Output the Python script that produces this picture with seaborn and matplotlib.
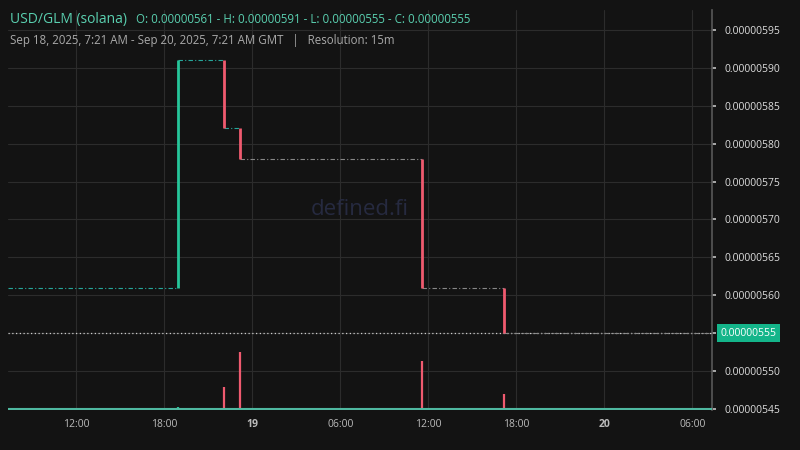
import matplotlib
matplotlib.use("Agg")
import matplotlib.pyplot as plt
import seaborn as sns
import pandas as pd

# hours since Sep 18 00:00
flat_start = [7.35, 18.95, 22.1, 23.2, 35.55, 41.2]
flat_end   = [18.95, 22.1, 23.2, 35.55, 41.2, 55.35]
flat_level = [561, 591, 582, 578, 561, 555]   # x1e-8
flat_color = ["#26a69a", "#26a69a", "#26a69a", "#888888", "#888888", "#888888"]

candle_t     = [18.95, 22.1, 23.2, 35.55, 41.2]
candle_open  = [561, 591, 582, 578, 561]
candle_close = [591, 582, 578, 561, 555]
volume       = [3, 23, 58, 49, 16]

xticks = [12, 18, 24, 30, 36, 42, 48, 54]
xlabels = ["12:00", "18:00", "19", "06:00", "12:00", "18:00", "20", "06:00"]
yticks = [545, 550, 555, 560, 565, 570, 575, 580, 585, 590, 595]

BG = "#131313"
sns.set_theme(style="dark", rc={"axes.facecolor": BG, "figure.facecolor": BG})
plt.rcParams['font.family'] = ['Open Sans', 'DejaVu Sans']

fig = plt.figure(figsize=(8, 4.5), dpi=100)
ax = fig.add_axes([0.01, 0.0889, 0.88, 0.8889])
axv = ax.twinx()
axv.set_zorder(ax.get_zorder() + 1); axv.patch.set_visible(False)

GREEN, RED = "#26c69a", "#ef5a6f"
df = pd.DataFrame({"t": candle_t, "o": candle_open, "c": candle_close, "v": volume})
df["col"] = [GREEN if c >= o else RED for o, c in zip(df.o, df.c)]

for s, e, l, col in zip(flat_start, flat_end, flat_level, flat_color):
    ax.hlines(l, s, e, colors=col, linestyles=(0, (4, 2, 1, 2)), lw=0.8, zorder=3)
for _, r in df.iterrows():
    ax.vlines(r.t, r.o, r.c, colors=r.col, lw=2, zorder=4)
    axv.vlines(r.t, 0, r.v, colors=r.col, lw=1.6)
axv.hlines(1, 7.35, 55.35, colors="#4fb8a0", lw=1.5)

ax.axhline(555, color="#cccccc", ls=(0, (1, 2)), lw=0.9, zorder=2)
ax.text(0.5, 0.5, "defined.fi", transform=ax.transAxes, ha="center", va="center",
        fontsize=16, color="#262a40", zorder=1)

ax.set_xlim(7.35, 55.35)
ax.set_ylim(544.9, 597.6)
axv.set_ylim(0, 400)
axv.set_yticks([])
ax.set_xticks(xticks)
ax.set_xticklabels(xlabels)
for lab in ax.get_xticklabels():
    if lab.get_text() in ("19", "20"):
        lab.set_fontweight("bold"); lab.set_color("#dddddd")
ax.yaxis.tick_right()
ax.set_yticks(yticks)
ax.set_yticklabels(["" if v == 555 else f"{v*1e-8:.8f}" for v in yticks])
ax.tick_params(axis="both", colors="#bbbbbb", labelsize=7.5, length=3)
ax.tick_params(axis="y", labelcolor="#dddddd", pad=6)
ax.grid(True, color="#2c2c2c", lw=0.8)
for sp in ["top", "left", "bottom"]:
    ax.spines[sp].set_visible(False)
    axv.spines[sp].set_visible(False)
ax.spines["right"].set_color("#555555")
axv.spines["right"].set_visible(False)
ax.text(1.012, (555 - 544.9) / (597.6 - 544.9), "0.00000555", transform=ax.transAxes,
        ha="left", va="center", fontsize=7.5, color="white",
        bbox=dict(boxstyle="square,pad=0.35", fc="#14b58a", ec="none"))

fig.text(0.012, 0.957, "USD/GLM (solana)", color="#5ad0b0", fontsize=10, va="center")
fig.text(0.17, 0.957, "O: 0.00000561 - H: 0.00000591 - L: 0.00000555 - C: 0.00000555",
         color="#5ad0b0", fontsize=8.3, va="center")
fig.text(0.012, 0.91, "Sep 18, 2025, 7:21 AM - Sep 20, 2025, 7:21 AM GMT   |   Resolution: 15m",
         color="#aaaaaa", fontsize=8.3, va="center")
fig.savefig("out.png", dpi=100, facecolor=BG)
